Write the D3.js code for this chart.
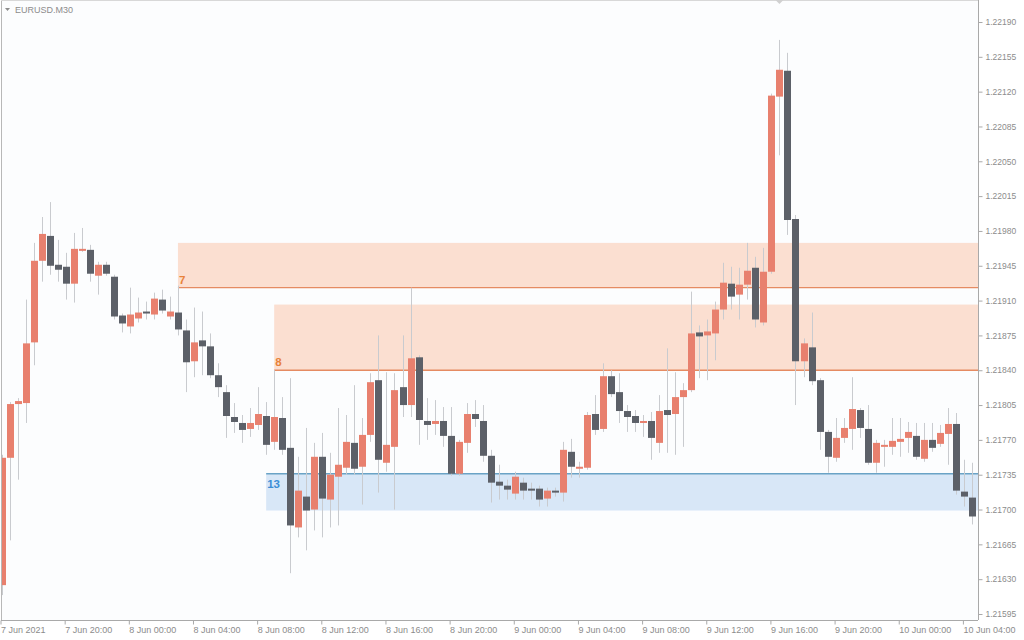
<!DOCTYPE html>
<html>
<head>
<meta charset="utf-8">
<script src="https://cdn.jsdelivr.net/npm/d3@7"></script>
<style>
  html, body { margin: 0; padding: 0; background: #ffffff; }
  svg { display: block; }
  text { font-family: "Liberation Sans", Arial, sans-serif; }
</style>
</head>
<body>
<svg id="chart" width="1024" height="640"></svg>
<script>
// ---- DATA (EURUSD M30, 7 Jun 16:00 -> 10 Jun 04:30) ----
const symbol = "EURUSD.M30";
const open = [
1.21624,1.21752,1.21806,1.21807,1.21868,1.21950,1.21975,1.21946,1.21944,1.21927,
1.21961,1.21961,1.21935,1.21946,1.21934,1.21895,1.21884,1.21892,1.21899,1.21896,
1.21911,1.21894,1.21898,1.21880,1.21849,1.21870,1.21864,1.21835,1.21818,1.21793,
1.21787,1.21781,1.21785,1.21794,1.21768,1.21792,1.21762,1.21682,1.21713,1.21700,
1.21753,1.21710,1.21733,1.21742,1.21767,1.21743,1.21775,1.21830,1.21747,1.21763,
1.21823,1.21805,1.21853,1.21789,1.21786,1.21789,1.21774,1.21736,1.21767,1.21796,
1.21789,1.21754,1.21728,1.21724,1.21716,1.21727,1.21721,1.21721,1.21711,1.21719,
1.21717,1.21758,1.21741,1.21742,1.21796,1.21781,1.21834,1.21818,1.21799,1.21794,
1.21787,1.21789,1.21767,1.21800,1.21796,1.21813,1.21820,1.21878,1.21875,1.21877,
1.21901,1.21927,1.21916,1.21926,1.21943,1.21888,1.21939,1.22115,1.22141,1.21992,
1.21849,1.21863,1.21830,1.21778,1.21752,1.21772,1.21781,1.21800,1.21781,1.21747,
1.21763,1.21763,1.21768,1.21772,1.21774,1.21751,1.21770,1.21766,1.21776,1.21786,
1.21718,1.21712];
const high = [
1.21755,1.21808,1.21812,1.21911,1.21968,1.21994,1.22009,1.21971,1.21958,1.21978,
1.21983,1.21966,1.21949,1.21949,1.21936,1.21897,1.21923,1.21913,1.21909,1.21918,
1.21921,1.21914,1.21925,1.21891,1.21903,1.21899,1.21877,1.21847,1.21825,1.21807,
1.21795,1.21802,1.21823,1.21808,1.21840,1.21813,1.21832,1.21753,1.21782,1.21767,
1.21777,1.21757,1.21802,1.21795,1.21825,1.21792,1.21837,1.21875,1.21838,1.21837,
1.21875,1.21923,1.21855,1.21812,1.21810,1.21803,1.21803,1.21770,1.21807,1.21810,
1.21805,1.21760,1.21745,1.21730,1.21738,1.21732,1.21727,1.21724,1.21722,1.21722,
1.21768,1.21771,1.21748,1.21798,1.21815,1.21847,1.21840,1.21837,1.21805,1.21800,
1.21795,1.21798,1.21815,1.21862,1.21838,1.21827,1.21919,1.21885,1.21891,1.21909,
1.21948,1.21944,1.21943,1.21968,1.21954,1.21963,1.22118,1.22172,1.22159,1.21996,
1.21872,1.21898,1.21832,1.21780,1.21792,1.21792,1.21833,1.21802,1.21805,1.21770,
1.21770,1.21792,1.21792,1.21788,1.21787,1.21787,1.21787,1.21785,1.21802,1.21797,
1.21750,1.21747];
const low = [
1.21614,1.21669,1.21730,1.21787,1.21845,1.21929,1.21936,1.21929,1.21911,1.21908,
1.21959,1.21929,1.21916,1.21935,1.21891,1.21878,1.21877,1.21888,1.21891,1.21891,
1.21897,1.21891,1.21875,1.21818,1.21833,1.21835,1.21832,1.21813,1.21772,1.21777,
1.21767,1.21773,1.21780,1.21755,1.21760,1.21755,1.21636,1.21672,1.21659,1.21679,
1.21672,1.21682,1.21684,1.21735,1.21735,1.21705,1.21768,1.21717,1.21738,1.21700,
1.21793,1.21793,1.21765,1.21770,1.21775,1.21763,1.21734,1.21734,1.21757,1.21783,
1.21748,1.21707,1.21710,1.21710,1.21710,1.21710,1.21710,1.21703,1.21703,1.21713,
1.21708,1.21732,1.21732,1.21740,1.21775,1.21778,1.21813,1.21787,1.21778,1.21778,
1.21773,1.21750,1.21757,1.21757,1.21755,1.21763,1.21818,1.21832,1.21830,1.21850,
1.21891,1.21901,1.21891,1.21911,1.21883,1.21885,1.21937,1.22056,1.21976,1.21805,
1.21833,1.21825,1.21760,1.21737,1.21748,1.21767,1.21760,1.21772,1.21745,1.21737,
1.21743,1.21755,1.21753,1.21757,1.21750,1.21748,1.21758,1.21763,1.21745,1.21715,
1.21703,1.21685];
const close = [
1.21752,1.21806,1.21809,1.21867,1.21950,1.21977,1.21945,1.21941,1.21927,1.21962,
1.21962,1.21937,1.21946,1.21937,1.21894,1.21887,1.21896,1.21898,1.21897,1.21912,
1.21900,1.21899,1.21881,1.21848,1.21868,1.21864,1.21835,1.21823,1.21794,1.21788,
1.21780,1.21787,1.21796,1.21765,1.21793,1.21760,1.21684,1.21719,1.21699,1.21753,
1.21711,1.21735,1.21745,1.21768,1.21741,1.21775,1.21828,1.21750,1.21765,1.21820,
1.21805,1.21852,1.21790,1.21785,1.21789,1.21774,1.21736,1.21768,1.21796,1.21791,
1.21754,1.21727,1.21724,1.21720,1.21733,1.21719,1.21719,1.21710,1.21719,1.21717,
1.21760,1.21743,1.21743,1.21795,1.21780,1.21834,1.21816,1.21799,1.21793,1.21787,
1.21789,1.21772,1.21799,1.21795,1.21813,1.21820,1.21877,1.21874,1.21879,1.21901,
1.21928,1.21914,1.21926,1.21940,1.21891,1.21939,1.22116,1.22142,1.21991,1.21849,
1.21867,1.21829,1.21778,1.21753,1.21772,1.21782,1.21801,1.21782,1.21747,1.21767,
1.21765,1.21769,1.21771,1.21778,1.21753,1.21770,1.21762,1.21777,1.21786,1.21719,
1.21713,1.21693];

// x tick labels (every 8 bars = 4 hours)
const xTickIndex = [0,8,16,24,32,40,48,56,64,72,80,88,96,104,112,120];
const xTickLabels = ["7 Jun 2021","7 Jun 20:00","8 Jun 00:00","8 Jun 04:00","8 Jun 08:00",
  "8 Jun 12:00","8 Jun 16:00","8 Jun 20:00","9 Jun 00:00","9 Jun 04:00","9 Jun 08:00",
  "9 Jun 12:00","9 Jun 16:00","9 Jun 20:00","10 Jun 00:00","10 Jun 04:00"];
// y tick labels
const yTickValues = [1.21595,1.21630,1.21665,1.21700,1.21735,1.21770,1.21805,1.21840,1.21875,
  1.21910,1.21945,1.21980,1.22015,1.22050,1.22085,1.22120,1.22155,1.22190];

// supply / demand zones
const zoneNames  = ["7", "8", "13"];
const zoneTop    = [1.21968, 1.21906, 1.21736];
const zoneBottom = [1.21923, 1.21840, 1.21699];
const zoneStart  = [22, 34, 33];
const zoneKind   = ["supply", "supply", "demand"];

// ---- LAYOUT ----
const W = 1024, H = 640;
const plotL = 1, plotR = 978, plotT = 0, plotB = 620;
const svg = d3.select("#chart");

const x = d3.scaleLinear().domain([0, open.length - 1]).range([1.5, 1.5 + 8.02 * (open.length - 1)]);
const y = d3.scaleLinear().domain([1.21595, 1.22190]).range([614, 22]);

const bars = open.map((o, i) => ({ i, o, h: high[i], l: low[i], c: close[i] }));
const zones = zoneNames.map((n, k) => ({ n, top: zoneTop[k], bot: zoneBottom[k], s: zoneStart[k], kind: zoneKind[k] }));

const colUp = "#e8806e", colDown = "#5c6068", colWick = "#c9cbcf";
const zoneCol = {
  supply: { fill: "#fbdfd1", line: "#e58b62", text: "#e8823a" },
  demand: { fill: "#d8e7f7", line: "#6aa3c6", text: "#3b8ed6" }
};

svg.append("defs").append("clipPath").attr("id", "plotclip")
  .append("rect").attr("x", plotL).attr("y", plotT).attr("width", plotR - plotL).attr("height", plotB - plotT);

svg.append("rect").attr("x", 0).attr("y", 0).attr("width", W).attr("height", H).attr("fill", "#ffffff");
svg.append("rect").attr("x", plotL).attr("y", plotT).attr("width", plotR - plotL).attr("height", plotB - plotT).attr("fill", "#fcfdfe");

const plot = svg.append("g").attr("clip-path", "url(#plotclip)");

// zones
const zg = plot.selectAll("g.zone").data(zones).join("g").attr("class", "zone");
zg.append("rect")
  .attr("x", d => x(d.s)).attr("y", d => y(d.top))
  .attr("width", d => plotR - x(d.s)).attr("height", d => y(d.bot) - y(d.top))
  .attr("fill", d => zoneCol[d.kind].fill);
zg.append("line")
  .attr("x1", d => x(d.s)).attr("x2", plotR)
  .attr("y1", d => d.kind === "supply" ? y(d.bot) : y(d.top))
  .attr("y2", d => d.kind === "supply" ? y(d.bot) : y(d.top))
  .attr("stroke", d => zoneCol[d.kind].line).attr("stroke-width", 1.4);

// wicks
plot.selectAll("line.wick").data(bars).join("line").attr("class", "wick")
  .attr("x1", d => Math.round(x(d.i)) + 0.5).attr("x2", d => Math.round(x(d.i)) + 0.5)
  .attr("y1", d => y(d.h)).attr("y2", d => y(d.l))
  .attr("stroke", colWick).attr("stroke-width", 1);

// bodies
plot.selectAll("rect.body").data(bars).join("rect").attr("class", "body")
  .attr("x", d => Math.round(x(d.i)) - 3)
  .attr("width", 7)
  .attr("y", d => y(Math.max(d.o, d.c)))
  .attr("height", d => Math.max(2, Math.abs(y(d.o) - y(d.c))))
  .attr("fill", d => d.c >= d.o ? colUp : colDown);

// zone labels
zg.append("text")
  .attr("x", d => x(d.s) + 1)
  .attr("y", d => d.kind === "supply" ? y(d.bot) - 4 : y(d.top) + 14)
  .attr("fill", d => zoneCol[d.kind].text)
  .attr("font-size", 11.5).attr("font-weight", "bold")
  .text(d => d.n);

// frame
svg.append("line").attr("x1", plotL + 0.5).attr("x2", plotL + 0.5).attr("y1", 0).attr("y2", plotB).attr("stroke", "#b8b8b8");
svg.append("line").attr("x1", plotL).attr("x2", plotR).attr("y1", 0.5).attr("y2", 0.5).attr("stroke", "#d8d8d8");

// y axis (right)
const yAxis = d3.axisRight(y).tickValues(yTickValues).tickFormat(d3.format(".5f")).tickSize(4).tickPadding(3);
const ya = svg.append("g").attr("transform", `translate(${plotR + 0.5},0)`).call(yAxis);
ya.select(".domain").attr("stroke", "#a9a9a9").attr("d", `M0,0V${plotB}`);
ya.selectAll(".tick line").attr("stroke", "#a9a9a9");
ya.selectAll(".tick text").attr("fill", "#8c8c8c").attr("font-size", 8.5)
  .attr("font-family", "'Liberation Sans', Arial, sans-serif");

// x axis (bottom)
const xAxis = d3.axisBottom(x).tickValues(xTickIndex).tickFormat((d, k) => xTickLabels[k]).tickSize(4).tickPadding(2);
const xa = svg.append("g").attr("transform", `translate(0,${plotB + 0.5})`).call(xAxis);
xa.select(".domain").attr("stroke", "#a9a9a9").attr("d", `M${plotL},0H${plotR}`);
xa.selectAll(".tick line").attr("stroke", "#a9a9a9").attr("transform", "translate(-1,0)");
xa.selectAll(".tick text").attr("fill", "#8c8c8c").attr("font-size", 9)
  .attr("text-anchor", "start").attr("dx", -1)
  .attr("font-family", "'Liberation Sans', Arial, sans-serif");

// title
svg.append("path").attr("d", "M5,8 L10,8 L7.5,11 Z").attr("fill", "#8c8c8c");
svg.append("text").attr("x", 15).attr("y", 13).attr("fill", "#8c8c8c").attr("font-size", 9).text(symbol);

// shift marker at top
svg.append("path").attr("d", `M${x(97) - 4},0 L${x(97) + 4},0 L${x(97)},4 Z`).attr("fill", "#d0d0d0");
</script>
</body>
</html>
